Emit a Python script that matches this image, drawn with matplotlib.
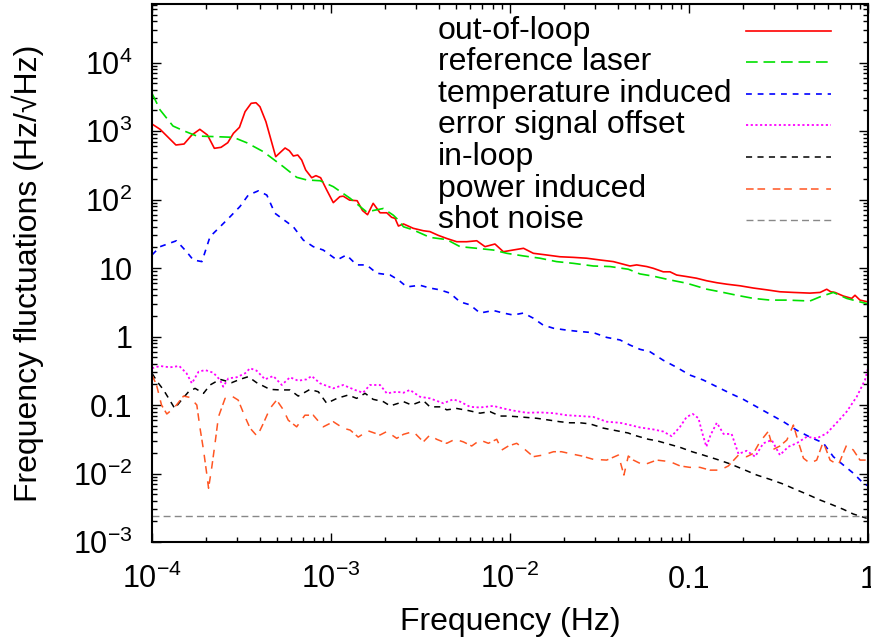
import matplotlib
matplotlib.use("Agg")
import matplotlib.pyplot as plt
from matplotlib.ticker import LogLocator, NullFormatter, FixedLocator
import numpy as np

plt.rcParams['font.family'] = ['Liberation Sans', 'DejaVu Sans']

# ---- data (frequency in Hz, fluctuations in Hz/sqrt(Hz)) ----
oof_f = [1.0e-4, 1.11e-4, 1.36e-4, 1.51e-4, 1.67e-4, 1.85e-4, 2.04e-4, 2.23e-4, 2.43e-4, 2.65e-4,
         2.85e-4, 3.08e-4, 3.31e-4, 3.58e-4, 3.81e-4, 4.01e-4, 4.33e-4, 4.91e-4, 5.26e-4, 5.54e-4,
         5.85e-4, 6.16e-4, 6.52e-4, 6.86e-4, 7.22e-4, 7.80e-4, 8.24e-4, 8.75e-4, 9.46e-4, 1.03e-3,
         1.12e-3, 1.17e-3, 1.27e-3, 1.40e-3, 1.50e-3, 1.60e-3, 1.72e-3, 1.88e-3, 2.05e-3, 2.18e-3,
         2.28e-3, 2.38e-3, 2.54e-3, 2.88e-3, 3.28e-3, 3.57e-3, 3.97e-3, 4.43e-3, 5.04e-3, 5.73e-3,
         6.52e-3, 7.25e-3, 8.24e-3, 9.18e-3, 1.04e-2, 1.19e-2, 1.35e-2, 1.60e-2, 1.90e-2, 2.26e-2,
         2.68e-2, 3.18e-2, 3.78e-2, 4.68e-2, 5.10e-2, 5.81e-2, 6.32e-2, 7.18e-2, 7.83e-2, 8.53e-2,
         9.70e-2, 0.110, 0.126, 0.143, 0.163, 0.193, 0.229, 0.272, 0.322, 0.383,
         0.474, 0.540, 0.588, 0.619, 0.654, 0.728, 0.811, 0.846, 0.902, 1.0]
oof_v = [1265, 1059, 625, 646, 875, 1059, 875, 559, 578, 675,
         925, 1132, 1914, 2537, 2588, 2263, 1367, 422, 499, 565,
         516, 432, 446, 377, 270, 208, 223, 208, 138, 90,
         110, 112, 98, 96, 69, 60, 88, 64, 64, 55,
         53, 41, 44, 38, 35, 34, 30, 27, 24.2, 24.2,
         25, 20.5, 22.4, 17.3, 18.3, 19.4, 16.4, 15.5, 14.6, 14.3,
         13.9, 13.1, 12.4, 10.7, 11.1, 10.5, 9.9, 8.8, 8.8, 7.9,
         7.5, 7.1, 6.5, 6.1, 5.8, 5.5, 5.1, 4.8, 4.5, 4.4,
         4.3, 4.4, 4.9, 4.5, 4.4, 3.9, 3.6, 4.0, 3.4, 3.2]

ref_f = [1.0e-4, 1.11e-4, 1.31e-4, 1.50e-4, 1.78e-4, 2.30e-4, 2.85e-4, 3.38e-4, 4.19e-4, 5.42e-4,
         6.43e-4, 7.31e-4, 8.69e-4, 1.03e-3, 1.28e-3, 1.58e-3, 1.96e-3, 2.23e-3, 2.38e-3, 2.54e-3,
         2.88e-3, 3.57e-3, 4.43e-3, 5.26e-3, 6.52e-3, 8.07e-3, 9.59e-3, 1.19e-2, 1.47e-2, 1.82e-2,
         2.26e-2, 2.92e-2, 3.62e-2, 4.58e-2, 5.32e-2, 6.32e-2, 7.83e-2, 9.70e-2, 0.126, 0.149,
         0.185, 0.229, 0.284, 0.352, 0.474, 0.540, 0.640, 0.760, 0.902, 1.0]
ref_v = [3550, 2028, 1183, 1010, 845, 826, 809, 675, 499, 301,
         211, 193, 188, 154, 104, 66, 74, 59, 50, 40,
         36, 28, 26, 20.5, 19.4, 18.3, 16.4, 15.0, 13.9, 12.4,
         11.7, 10.7, 10.5, 9.6, 8.2, 7.6, 6.7, 6.0, 4.9, 4.5,
         4.0, 3.6, 3.4, 3.4, 3.3, 3.8, 4.4, 3.6, 3.2, 3.0]

temp_f = [1.0e-4, 1.11e-4, 1.37e-4, 1.56e-4, 1.70e-4, 1.90e-4, 2.11e-4, 2.40e-4, 2.73e-4, 3.10e-4,
          3.45e-4, 3.93e-4, 4.38e-4, 4.86e-4, 5.42e-4, 6.16e-4, 7.00e-4, 7.96e-4, 9.05e-4, 1.08e-3,
          1.22e-3, 1.39e-3, 1.58e-3, 1.80e-3, 2.14e-3, 2.38e-3, 2.65e-3, 3.14e-3, 3.57e-3, 4.06e-3,
          4.62e-3, 5.26e-3, 5.98e-3, 6.80e-3, 8.07e-3, 9.18e-3, 1.04e-2, 1.19e-2, 1.35e-2, 1.53e-2,
          1.75e-2, 2.07e-2, 2.46e-2, 2.92e-2, 3.47e-2, 4.12e-2, 4.68e-2, 5.32e-2, 6.05e-2, 7.18e-2,
          8.53e-2, 0.101, 0.120, 0.143, 0.170, 0.201, 0.239, 0.284, 0.337, 0.399,
          0.474, 0.562, 0.640, 0.728, 0.828, 0.942, 1.0]
temp_v = [15.5, 20.5, 25, 17.3, 13.1, 12.4, 28.7, 40, 56, 79,
          116, 134, 116, 63, 51, 40, 25.6, 20.5, 18.3, 13.1,
          15.5, 11.1, 11.1, 8.4, 7.9, 6.7, 5.3, 5.6, 5.1, 4.8,
          4.3, 3.2, 2.9, 2.2, 2.4, 2.2, 2.06, 2.2, 1.85, 1.47,
          1.32, 1.24, 1.18, 1.14, 0.97, 0.89, 0.75, 0.65, 0.60, 0.45,
          0.355, 0.274, 0.232, 0.185, 0.148, 0.121, 0.094, 0.073, 0.057, 0.043,
          0.034, 0.028, 0.0176, 0.0133, 0.0101, 0.0072, 0.0066]

err_f = [1.0e-4, 1.11e-4, 1.26e-4, 1.42e-4, 1.56e-4, 1.67e-4, 1.82e-4, 1.98e-4, 2.20e-4, 2.40e-4,
         2.50e-4, 2.67e-4, 2.97e-4, 3.31e-4, 3.53e-4, 3.84e-4, 4.28e-4, 4.76e-4, 5.31e-4, 5.90e-4,
         6.56e-4, 7.31e-4, 7.80e-4, 8.69e-4, 1.03e-3, 1.17e-3, 1.36e-3, 1.51e-3, 1.65e-3, 1.88e-3,
         2.05e-3, 2.33e-3, 2.54e-3, 2.76e-3, 3.14e-3, 3.57e-3, 4.24e-3, 4.82e-3, 5.26e-3, 5.98e-3,
         6.80e-3, 8.07e-3, 9.18e-3, 1.04e-2, 1.24e-2, 1.47e-2, 1.75e-2, 2.07e-2, 2.46e-2, 2.92e-2,
         3.47e-2, 4.12e-2, 4.68e-2, 5.32e-2, 6.32e-2, 7.18e-2, 8.00e-2, 8.91e-2, 9.70e-2, 0.105,
         0.113, 0.118, 0.125, 0.132, 0.143, 0.156, 0.173, 0.189, 0.210, 0.234,
         0.260, 0.290, 0.322, 0.359, 0.399, 0.455, 0.517, 0.588, 0.668, 0.760,
         0.865, 0.962, 1.0]
err_v = [0.344, 0.371, 0.355, 0.371, 0.290, 0.207, 0.306, 0.324, 0.296, 0.232,
         0.185, 0.245, 0.254, 0.290, 0.344, 0.317, 0.237, 0.265, 0.196, 0.254,
         0.226, 0.237, 0.265, 0.207, 0.175, 0.196, 0.166, 0.151, 0.196, 0.196,
         0.148, 0.156, 0.151, 0.166, 0.132, 0.125, 0.106, 0.121, 0.112, 0.094,
         0.092, 0.097, 0.089, 0.083, 0.077, 0.078, 0.076, 0.071, 0.069, 0.067,
         0.057, 0.055, 0.051, 0.047, 0.044, 0.041, 0.035, 0.048, 0.067, 0.074,
         0.064, 0.041, 0.0246, 0.0365, 0.055, 0.0378, 0.0378, 0.0193, 0.0215, 0.0176,
         0.0276, 0.0308, 0.0186, 0.0246, 0.0276, 0.0344, 0.0326, 0.0386, 0.055, 0.080,
         0.132, 0.232, 0.344]

inloop_f = [1.0e-4, 1.08e-4, 1.16e-4, 1.23e-4, 1.34e-4, 1.46e-4, 1.60e-4, 1.74e-4, 1.94e-4, 2.11e-4,
            2.40e-4, 2.79e-4, 3.10e-4, 3.45e-4, 3.84e-4, 4.56e-4, 5.19e-4, 5.90e-4, 6.56e-4, 7.63e-4,
            8.50e-4, 9.46e-4, 1.08e-3, 1.25e-3, 1.39e-3, 1.55e-3, 1.72e-3, 1.96e-3, 2.14e-3, 2.54e-3,
            2.82e-3, 3.28e-3, 3.57e-3, 4.15e-3, 4.43e-3, 5.04e-3, 5.85e-3, 6.80e-3, 7.73e-3, 8.79e-3,
            9.79e-3, 1.14e-2, 1.41e-2, 1.67e-2, 1.90e-2, 2.16e-2, 2.46e-2, 2.80e-2, 3.32e-2, 3.78e-2,
            4.58e-2, 4.89e-2, 5.93e-2, 6.60e-2, 8.00e-2, 8.91e-2, 0.104, 0.120, 0.143, 0.170,
            0.201, 0.239, 0.284, 0.337, 0.391, 0.455, 0.540, 0.614, 0.728, 0.828, 0.984]
inloop_v = [0.290, 0.212, 0.166, 0.129, 0.089, 0.118, 0.156, 0.175, 0.148, 0.196,
            0.237, 0.212, 0.237, 0.259, 0.212, 0.169, 0.166, 0.166, 0.135, 0.169,
            0.156, 0.106, 0.125, 0.140, 0.125, 0.148, 0.121, 0.112, 0.097, 0.112,
            0.100, 0.116, 0.094, 0.094, 0.085, 0.089, 0.083, 0.076, 0.080, 0.069,
            0.069, 0.067, 0.064, 0.060, 0.057, 0.055, 0.055, 0.053, 0.046, 0.043,
            0.039, 0.0365, 0.0316, 0.0301, 0.0261, 0.0241, 0.0208, 0.0186, 0.0161, 0.0138,
            0.0115, 0.0095, 0.0082, 0.0070, 0.0059, 0.0050, 0.0041, 0.0036, 0.0030, 0.00256, 0.00222]

power_f = [1.0e-4, 1.06e-4, 1.13e-4, 1.21e-4, 1.29e-4, 1.37e-4, 1.50e-4, 1.63e-4, 1.78e-4, 1.85e-4,
           1.94e-4, 2.02e-4, 2.07e-4, 2.16e-4, 2.25e-4, 2.35e-4, 2.56e-4, 2.79e-4, 3.03e-4, 3.31e-4,
           3.53e-4, 3.87e-4, 4.19e-4, 4.56e-4, 4.97e-4, 5.42e-4, 5.77e-4, 6.43e-4, 7.15e-4, 7.96e-4,
           9.05e-4, 1.03e-3, 1.17e-3, 1.28e-3, 1.42e-3, 1.61e-3, 1.88e-3, 2.05e-3, 2.33e-3, 2.54e-3,
           2.88e-3, 3.28e-3, 3.57e-3, 3.89e-3, 4.43e-3, 4.93e-3, 5.48e-3, 6.11e-3, 6.80e-3, 7.57e-3,
           8.43e-3, 8.99e-3, 9.79e-3, 1.09e-2, 1.21e-2, 1.35e-2, 1.53e-2, 1.75e-2, 1.94e-2, 2.21e-2,
           2.52e-2, 2.92e-2, 3.47e-2, 4.03e-2, 4.33e-2, 4.58e-2, 4.89e-2, 5.56e-2, 6.60e-2, 7.83e-2,
           8.91e-2, 0.101, 0.115, 0.131, 0.149, 0.166, 0.189, 0.210, 0.229, 0.249,
           0.277, 0.296, 0.322, 0.352, 0.383, 0.408, 0.436, 0.474, 0.517, 0.562,
           0.614, 0.683, 0.760, 0.828, 0.902, 1.0]
power_v = [0.274, 0.196, 0.100, 0.074, 0.085, 0.100, 0.135, 0.129, 0.100, 0.048,
           0.022, 0.0101, 0.0061, 0.0126, 0.0276, 0.067, 0.125, 0.135, 0.118, 0.067,
           0.046, 0.035, 0.054, 0.089, 0.118, 0.085, 0.060, 0.048, 0.071, 0.071,
           0.048, 0.057, 0.046, 0.043, 0.034, 0.042, 0.0365, 0.041, 0.0326, 0.0373,
           0.041, 0.029, 0.0365, 0.0316, 0.0276, 0.0316, 0.029, 0.0252, 0.0308, 0.0276,
           0.0316, 0.022, 0.0252, 0.0276, 0.0225, 0.0176, 0.0186, 0.0208, 0.0208, 0.0193,
           0.0180, 0.0161, 0.0157, 0.0186, 0.0095, 0.0180, 0.0157, 0.0133, 0.0157, 0.0149,
           0.0129, 0.0123, 0.0123, 0.0112, 0.0112, 0.0129, 0.0186, 0.0176, 0.0197, 0.029,
           0.041, 0.0225, 0.0252, 0.0308, 0.051, 0.029, 0.0167, 0.0141, 0.0157, 0.029,
           0.0157, 0.0133, 0.0261, 0.022, 0.0157, 0.0157]

shot_f = [1.0e-4, 1.0]
shot_v = [2.4e-3, 2.4e-3]

labels = ['out-of-loop', 'reference laser', 'temperature induced', 'error signal offset',
          'in-loop', 'power induced', 'shot noise']

xticks = [1e-4, 1e-3, 1e-2, 0.1, 1]
xticklabels = [r'$\mathregular{10^{-4}}$', r'$\mathregular{10^{-3}}$', r'$\mathregular{10^{-2}}$',
               '0.1', '1']
yticks = [1e-3, 1e-2, 0.1, 1, 10, 1e2, 1e3, 1e4]
yticklabels = [r'$\mathregular{10^{-3}}$', r'$\mathregular{10^{-2}}$', '0.1', '1', '10',
               r'$\mathregular{10^{2}}$', r'$\mathregular{10^{3}}$', r'$\mathregular{10^{4}}$']

# ---- figure ----
fig = plt.figure(figsize=(8.71, 6.43), dpi=100)
W, H = 871, 643
ax = fig.add_axes([152 / W, (H - 542) / H, (868 - 152) / W, (542 - 4) / H])

series = [
    (oof_f, oof_v, dict(color='#ff0000', lw=1.2, ls='-')),
    (ref_f, ref_v, dict(color='#00e000', lw=1.2, ls=(0, (7, 3.5)))),
    (temp_f, temp_v, dict(color='#0000ff', lw=1.2, ls=(0, (3.5, 3.5)))),
    (err_f, err_v, dict(color='#ff00ff', lw=1.3, ls=(0, (1.2, 1.4)))),
    (inloop_f, inloop_v, dict(color='#000000', lw=1.1, ls=(0, (4, 3.5)))),
    (power_f, power_v, dict(color='#ff5522', lw=1.1, ls=(0, (5, 2.5, 5, 5)))),
    (shot_f, shot_v, dict(color='#888888', lw=1.0, ls=(0, (5, 3)))),
]

for f, v, st in series:
    ax.plot(f, v, **st)

ax.set_xscale('log')
ax.set_yscale('log')
ax.set_xlim(1e-4, 1)
ax.set_ylim(1e-3, 7.15e4)

ax.xaxis.set_major_locator(FixedLocator(xticks))
ax.yaxis.set_major_locator(FixedLocator(yticks))
ax.set_xticks(xticks, xticklabels, va='baseline')
ax.set_yticks(yticks, yticklabels)
for axis in (ax.xaxis, ax.yaxis):
    axis.set_minor_locator(LogLocator(base=10, subs=np.arange(2, 10), numticks=100))
    axis.set_minor_formatter(NullFormatter())

ax.tick_params(which='both', direction='in', top=True, right=True, width=1.0)
ax.tick_params(which='major', length=6.5)
ax.tick_params(which='minor', length=3.5)
ax.tick_params(axis='x', which='major', labelsize=22, pad=33)
ax.tick_params(axis='y', which='major', labelsize=22, pad=14)
for sp in ax.spines.values():
    sp.set_linewidth(1.5)

ax.set_xlabel('Frequency (Hz)', fontsize=23, va='center')
ax.xaxis.set_label_coords(0.5, -0.149)
ax.set_ylabel('Frequency fluctuations (Hz/\u221aHz)', fontsize=23, va='center')
ax.yaxis.set_label_coords(-0.173, 0.5)

# gnuplot-style key: text left, sample line right
x_text, x0, x1 = 0.3994, 0.8296, 0.9483
y_top, dy = 0.9504, 0.0587
for i, (lab, (f, v, st)) in enumerate(zip(labels, series)):
    yy = y_top - i * dy
    ax.text(x_text, yy, lab, transform=ax.transAxes, fontsize=23, va='center', ha='left')
    ax.plot([x0, x1], [yy, yy], transform=ax.transAxes, clip_on=False, **st)

fig.savefig('out.png', dpi=100)
